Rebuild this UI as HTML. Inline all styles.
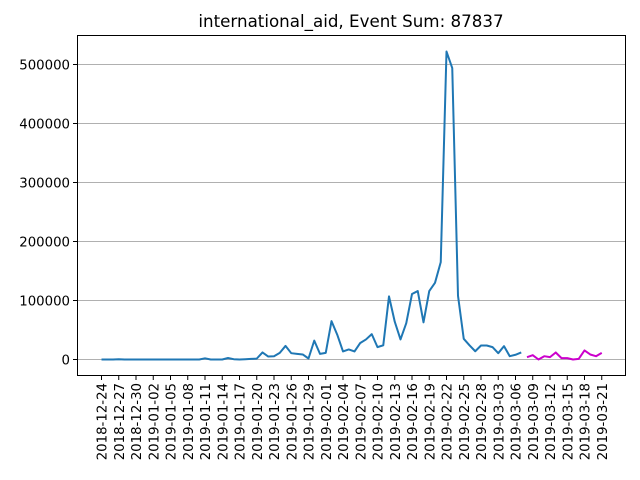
<!DOCTYPE html>
<html><head><meta charset="utf-8"><style>
body{margin:0;background:#fff;}
svg{display:block;font-family:"DejaVu Sans","Liberation Sans",sans-serif;}
</style></head><body>
<svg id="chart" width="640" height="480" viewBox="0 0 640 480">
<rect width="640" height="480" fill="#fff"/>
<text x="351" y="27" text-anchor="middle" font-size="16.7">international_aid, Event Sum: 87837</text>
<g id="grid"></g><g id="series"></g><g id="axes"></g>
<rect x="77.5" y="35.5" width="548" height="340" fill="none" stroke="#000" stroke-width="1"/>
</svg>
<script>
const startDate = "2018-12-24";
const blueValues = [0,0,0,500,0,0,0,0,0,0,0,0,0,0,0,0,0,0,2000,0,0,0,2500,500,0,500,1000,1500,12000,5000,
5600,11300,23000,10700,9600,8500,1700,32000,9600,11300,65000,42000,13600,17000,13600,28000,34000,43000,21000,24000,
107000,64000,34000,61500,111000,116000,63000,116000,130000,165000,522000,494000,108000,35000,24000,14000,23700,23700,21000,10700,
22600,5600,8000,11900];
const magentaValues = [4000,7300,0,5600,4000,11900,2300,2300,0,1100,15300,8500,5600,11300];
const yTicks = [0,100000,200000,300000,400000,500000];
const totalDays = 88;

const ns="http://www.w3.org/2000/svg";
function X(d){return 101.5+d*5.75;}
function Y(v){return 359.5-v*0.00059;}
function mk(tag,attrs,parent){const e=document.createElementNS(ns,tag);for(const k in attrs)e.setAttribute(k,attrs[k]);parent.appendChild(e);return e;}
const grid=document.getElementById('grid'),series=document.getElementById('series'),axes=document.getElementById('axes');
yTicks.forEach(t=>{
  const y=Y(t);
  const g=mk('line',{x1:77.5,x2:625.5,y1:y,y2:y,stroke:'#b0b0b0','stroke-width':1},grid);
  
  
  const tk=mk('line',{x1:73,x2:77.5,y1:y,y2:y,stroke:'#000'},axes);
  
  
  const tx=mk('text',{x:70,y:y+5,'text-anchor':'end','font-size':13.3},axes);
  tx.textContent=String(t);
  
  
});
const base=new Date(startDate+"T00:00:00Z");
for(let d=0;d<totalDays;d+=3){
  const x=X(d);
  const tk=mk('line',{x1:x,x2:x,y1:375.5,y2:380,stroke:'#000'},axes);
  
  
  const dt=new Date(base.getTime()+d*86400000);
  const lbl=dt.toISOString().slice(0,10);
  const tx=mk('text',{x:0,y:0,'text-anchor':'end','font-size':13.3,transform:`translate(${x+5},383) rotate(-90)`},axes);
  tx.textContent=lbl;
  
  
}
function line(vals,off,color,name){
  const pts=vals.map((v,i)=>X(i+off).toFixed(2)+','+Y(v).toFixed(2)).join(' ');
  const p=mk('polyline',{points:pts,fill:'none',stroke:color,'stroke-width':2,'stroke-linejoin':'round'},series);
  
  
}
line(blueValues,0,'#1f77b4','history-series-line');
line(magentaValues,blueValues.length,'#cc00cc','forecast-series-line');
</script>
</body></html>
